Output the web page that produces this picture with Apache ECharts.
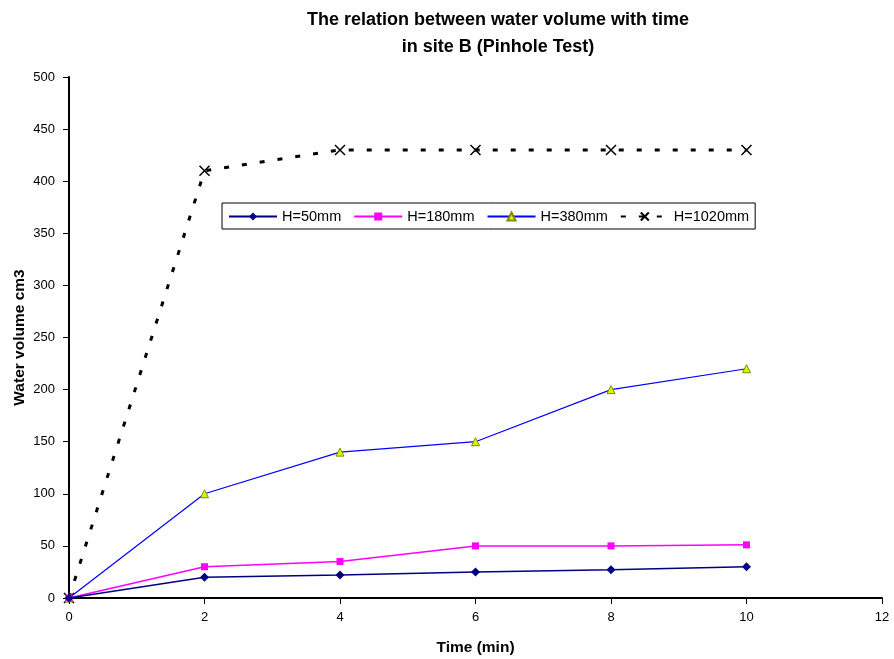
<!DOCTYPE html>
<html lang="en">
<head>
  <meta charset="UTF-8">
  <title>water volume</title>
  <style>
    html, body, #main { margin: 0; padding: 0; }
    #main { width: 894px; height: 659px; background: #fff; }
  </style>
</head>
<body>
  <div id="main"></div>
  <script src="https://cdn.jsdelivr.net/npm/echarts@6/dist/echarts.min.js"></script>
  <script>
    const times = [0, 2, 4, 6, 8, 10];
    const h50 = [0, 20, 22, 25, 27, 30];
    const h180 = [0, 30, 35, 50, 50, 51];
    const h380 = [0, 100, 140, 150, 200, 220];
    const h1020 = [0, 410, 430, 430, 430, 430];

    const pairs = arr => arr.map((v, i) => [times[i], v]);
    const font = 'Liberation Sans, Arial, sans-serif';

    const myChart = echarts.init(document.getElementById('main'));
    const option = {
      animation: false,
      textStyle: { fontFamily: font },
      title: {
        text: 'The relation between water volume with time\nin site B (Pinhole Test)',
        left: 493,
        textAlign: 'center',
        top: 2,
        textStyle: { fontSize: 18, fontWeight: 'bold', lineHeight: 27, color: '#000', fontFamily: font }
      },
      legend: {
        left: 222,
        top: 203,
        width: 534,
        height: 29,
        padding: [6, 6, 5, 6],
        itemGap: 12,
        itemWidth: 48,
        itemHeight: 10,
        borderColor: '#000',
        borderWidth: 1,
        textStyle: { fontSize: 14.5, color: '#000', fontFamily: font },
        data: ['H=50mm', 'H=180mm', 'H=380mm', 'H=1020mm']
      },
      grid: { left: 69, right: 12, top: 77, bottom: 61, containLabel: false, outerBoundsMode: 'none' },
      xAxis: {
        type: 'value',
        min: 0,
        max: 12,
        interval: 2,
        name: 'Time (min)',
        nameLocation: 'middle',
        nameGap: 42,
        nameTextStyle: { fontSize: 15.5, fontWeight: 'bold', color: '#000' },
        axisLine: { lineStyle: { color: '#000', width: 2 } },
        axisTick: { length: 6, lineStyle: { color: '#000' } },
        axisLabel: { fontSize: 13, color: '#000', margin: 13 },
        splitLine: { show: false }
      },
      yAxis: {
        type: 'value',
        min: 0,
        max: 500,
        interval: 50,
        name: 'Water volume cm3',
        nameLocation: 'middle',
        nameGap: 41,
        nameMoveOverlap: false,
        nameTextStyle: { fontSize: 15.5, fontWeight: 'bold', color: '#000' },
        axisLine: { show: true, lineStyle: { color: '#000', width: 2 } },
        axisTick: { show: true, length: 6, lineStyle: { color: '#000' } },
        axisLabel: { fontSize: 13, color: '#000', margin: 14 },
        splitLine: { show: false }
      },
      series: [
        {
          name: 'H=50mm',
          type: 'line',
          data: pairs(h50),
          symbol: 'diamond',
          symbolSize: 9,
          lineStyle: { color: '#000080', width: 1.5 },
          itemStyle: { color: '#000080' },
          z: 4
        },
        {
          name: 'H=180mm',
          type: 'line',
          data: pairs(h180),
          symbol: 'rect',
          symbolSize: 7,
          lineStyle: { color: '#ff00ff', width: 1.5 },
          itemStyle: { color: '#ff00ff' },
          z: 3
        },
        {
          name: 'H=380mm',
          type: 'line',
          data: pairs(h380),
          symbol: 'triangle',
          symbolSize: 8,
          lineStyle: { color: '#0000ff', width: 1.2 },
          itemStyle: { color: '#ccff00', borderColor: '#888800', borderWidth: 1 },
          z: 2
        },
        {
          name: 'H=1020mm',
          type: 'line',
          data: pairs(h1020),
          symbol: 'path://M0,0L10,10M10,0L0,10',
          symbolSize: 10,
          lineStyle: { color: '#000', width: 3, type: [5, 13] },
          itemStyle: { color: 'none', borderColor: '#000', borderWidth: 1.5 },
          z: 1
        }
      ]
    };

    myChart.setOption(option);
  </script>
</body>
</html>
